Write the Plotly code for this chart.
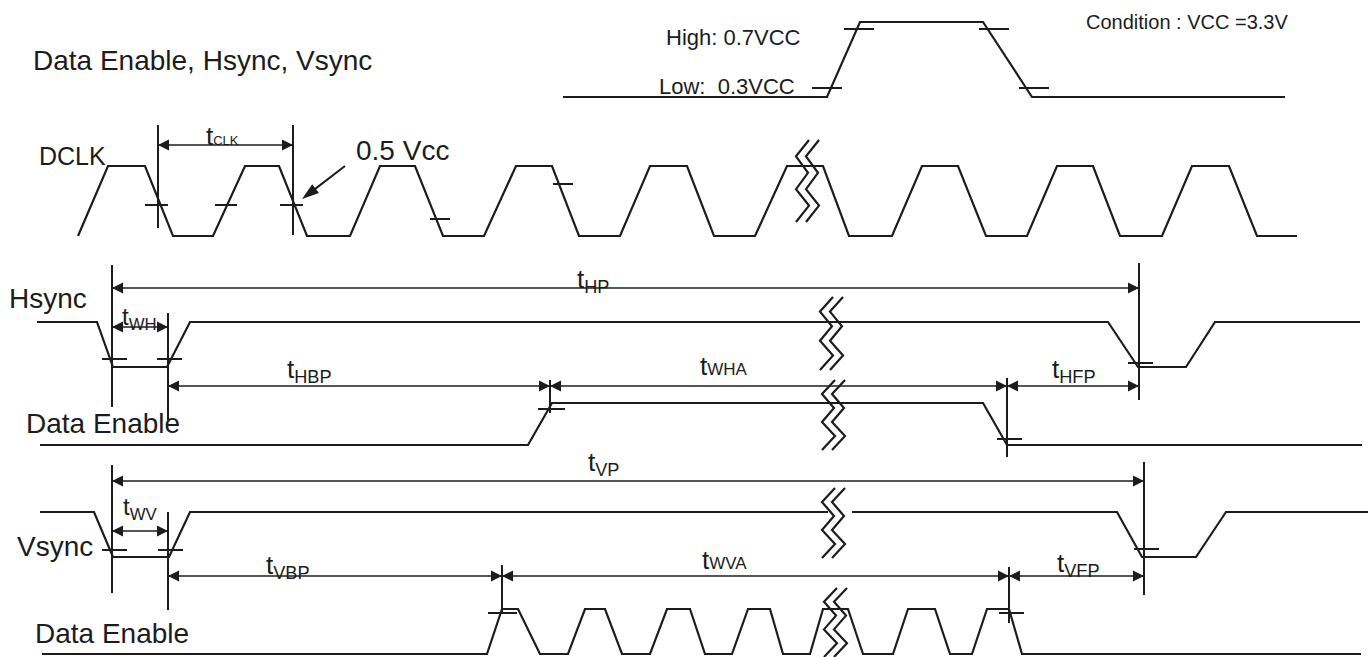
import plotly.graph_objects as go

W, H = 1370, 657
INK = "#1c1c1c"
FONT = "Liberation Sans, Arial, sans-serif"

# ---------------- data ----------------
# signal levels (screen rows of the high / low rails)
ref_levels = {1: 22, 0: 97}
clk_levels = {1: 166, 0: 236}
hs_levels = {1: 322, 0: 367}
deh_levels = {1: 403, 0: 445}
vs_levels = {1: 512, 0: 557}
dev_levels = {1: 609, 0: 654}

# threshold reference waveform
ref_t = [563, 827, 860, 983, 1032, 1285]
ref_v = [0, 0, 1, 1, 0, 0]

# DCLK edges
clk_t = [78, 108, 145, 173, 213, 245, 279, 307, 350, 380, 415, 443, 484, 516, 552, 579,
         620, 650, 687, 714, 755, 787, 823, 849, 892, 922, 958, 986, 1027, 1057, 1093,
         1120, 1162, 1192, 1229, 1257, 1297]
clk_v = [0] + [1, 1, 0, 0] * 9

# Hsync and its Data Enable
hs_t = [37, 97, 113, 167, 190, 1108, 1138, 1186, 1215, 1360]
hs_v = [1, 1, 0, 0, 1, 1, 0, 0, 1, 1]
deh_t = [40, 528, 552, 983, 1007, 1362]
deh_v = [0, 0, 1, 1, 0, 0]

# Vsync (broken at the gap) and its Data Enable
vs_t_a = [40, 94, 113, 169, 190, 828]
vs_v_a = [1, 1, 0, 0, 1, 1]
vs_t_b = [852, 1117, 1142, 1196, 1226, 1368]
vs_v_b = [1, 1, 0, 0, 1, 1]
dev_t = [42, 487, 502, 518, 540, 568, 585, 605, 622, 650, 667, 690, 705, 732, 748, 770,
         783, 810, 823, 848, 863, 893, 908, 935, 950, 972, 987, 1009, 1022, 1361]
dev_v = [0] + [0, 1, 1, 0] * 7 + [0]

# threshold tick marks: (x start, x end, row)
tick_x0 = [844, 979, 812, 1019, 145, 215, 280, 430, 553, 102, 157, 1128, 538, 997,
           102, 158, 1134, 488, 999]
tick_x1 = [874, 1009, 842, 1049, 168, 237, 303, 450, 573, 127, 182, 1153, 565, 1022,
           127, 183, 1159, 517, 1024]
tick_y = [29, 29, 88, 88, 205, 205, 205, 219, 184, 359, 359, 363, 409, 439,
          550, 550, 549, 613, 613]

# vertical dimension lines: x, top, bottom
dim_x = [158, 293, 112, 168, 550, 1007, 1139, 112, 168, 502, 1009, 1144]
dim_top = [125, 125, 265, 313, 380, 378, 263, 465, 512, 565, 567, 462]
dim_bot = [228, 235, 407, 420, 413, 457, 400, 593, 610, 613, 623, 595]

# double-headed dimension arrows: from, to, row
arr_x0 = [158, 112, 112, 168, 550, 1007, 112, 112, 168, 502, 1009]
arr_x1 = [293, 1139, 168, 550, 1007, 1139, 1144, 168, 502, 1009, 1144]
arr_y = [145, 288, 327, 386, 386, 386, 481, 531, 576, 576, 576]

# break (zigzag) markers: left x, top, bottom
brk_x = [796, 820, 822, 822, 824]
brk_top = [140, 297, 380, 488, 588]
brk_bot = [222, 370, 450, 558, 657]
zig_dx = [13, 0, 12, 0, 13, 0]
zig_fy = [0.0, 0.2, 0.4, 0.6, 0.8, 1.0]

# timing labels
lab_text = ["t<span style='font-size:13px'>CLK</span>",
            "t<sub>HP</sub>", "t<sub>WH</sub>", "t<sub>HBP</sub>",
            "t<span style='font-size:17px'>WHA</span>", "t<sub>HFP</sub>",
            "t<sub>VP</sub>", "t<sub>WV</sub>", "t<sub>VBP</sub>",
            "t<span style='font-size:17px'>WVA</span>", "t<sub>VFP</sub>"]
lab_x = [222, 593, 139, 309, 724, 1074, 604, 140, 288, 724, 1078]
lab_y = [136, 280, 318, 370, 366, 370, 463, 508, 566, 560, 564]
lab_size = [26, 26, 24, 26, 26, 26, 26, 24, 26, 26, 26]

# names and notes
txt = ["Data Enable, Hsync, Vsync", "DCLK", "0.5 Vcc", "Hsync", "Data Enable",
       "Vsync", "Data Enable", "High: 0.7VCC", "Low:  0.3VCC", "Condition : VCC =3.3V"]
txt_x = [202, 72, 402, 48, 103, 55, 112, 733, 727, 1187]
txt_y = [60, 156, 150, 298, 423, 546, 633, 37, 86, 22]
txt_size = [28, 25, 28, 28, 28, 28, 28, 22, 22, 20]

# pointer arrow for 0.5 Vcc: tail -> head
ptr_x = [345, 302]
ptr_y = [166, 199]

# ---------------- figure ----------------
fig = go.Figure()


def wave(ts, vs, levels, width=2.2):
    fig.add_trace(go.Scatter(x=ts, y=[levels[v] for v in vs], mode="lines",
                             line=dict(color=INK, width=width),
                             hoverinfo="skip", showlegend=False))


wave(ref_t, ref_v, ref_levels)
wave(clk_t, clk_v, clk_levels)
wave(hs_t, hs_v, hs_levels)
wave(deh_t, deh_v, deh_levels)
wave(vs_t_a, vs_v_a, vs_levels)
wave(vs_t_b, vs_v_b, vs_levels)
wave(dev_t, dev_v, dev_levels)


def segments(x0s, x1s, y0s, y1s, width):
    xs, ys = [], []
    for a, b, c, d in zip(x0s, x1s, y0s, y1s):
        xs += [a, b, None]
        ys += [c, d, None]
    fig.add_trace(go.Scatter(x=xs, y=ys, mode="lines", line=dict(color=INK, width=width),
                             hoverinfo="skip", showlegend=False))


# threshold ticks
segments(tick_x0, tick_x1, tick_y, tick_y, 2)
# vertical dimension lines
segments(dim_x, dim_x, dim_top, dim_bot, 2)
# dimension arrow shafts
segments(arr_x0, arr_x1, arr_y, arr_y, 1.6)
# arrow heads
fig.add_trace(go.Scatter(x=arr_x0, y=arr_y, mode="markers",
                         marker=dict(symbol="arrow-left", size=11, color=INK,
                                     line=dict(width=0)),
                         hoverinfo="skip", showlegend=False))
fig.add_trace(go.Scatter(x=arr_x1, y=arr_y, mode="markers",
                         marker=dict(symbol="arrow-right", size=11, color=INK,
                                     line=dict(width=0)),
                         hoverinfo="skip", showlegend=False))

# 0.5 Vcc pointer
fig.add_trace(go.Scatter(x=ptr_x, y=ptr_y, mode="lines+markers",
                         line=dict(color=INK, width=2),
                         marker=dict(symbol=["circle", "arrow"], size=[0, 18], color=INK,
                                     angleref="previous", opacity=1, line=dict(width=0)),
                         hoverinfo="skip", showlegend=False))

# break zigzags (two parallel strokes)
zx, zy = [], []
for x, a, b in zip(brk_x, brk_top, brk_bot):
    for off in (0, 10):
        zx += [x + off + d for d in zig_dx] + [None]
        zy += [a + f * (b - a) for f in zig_fy] + [None]
fig.add_trace(go.Scatter(x=zx, y=zy, mode="lines", line=dict(color=INK, width=2.2),
                         hoverinfo="skip", showlegend=False))

annotations = []
for t, x, y, s in zip(lab_text, lab_x, lab_y, lab_size):
    annotations.append(dict(x=x, y=y, xref="x", yref="y", text=t, showarrow=False,
                            font=dict(family=FONT, size=s, color=INK),
                            xanchor="center", yanchor="middle"))
for t, x, y, s in zip(txt, txt_x, txt_y, txt_size):
    annotations.append(dict(x=x, y=y, xref="x", yref="y", text=t, showarrow=False,
                            font=dict(family=FONT, size=s, color=INK),
                            xanchor="center", yanchor="middle"))

fig.update_layout(
    width=W, height=H, margin=dict(l=0, r=0, t=0, b=0),
    paper_bgcolor="white", plot_bgcolor="white",
    xaxis=dict(range=[0, W], visible=False, fixedrange=True),
    yaxis=dict(range=[H, 0], visible=False, fixedrange=True),
    annotations=annotations, showlegend=False,
)

fig.write_html("out.html", config={"displayModeBar": False},
               post_script="document.body.style.margin='0px';")
